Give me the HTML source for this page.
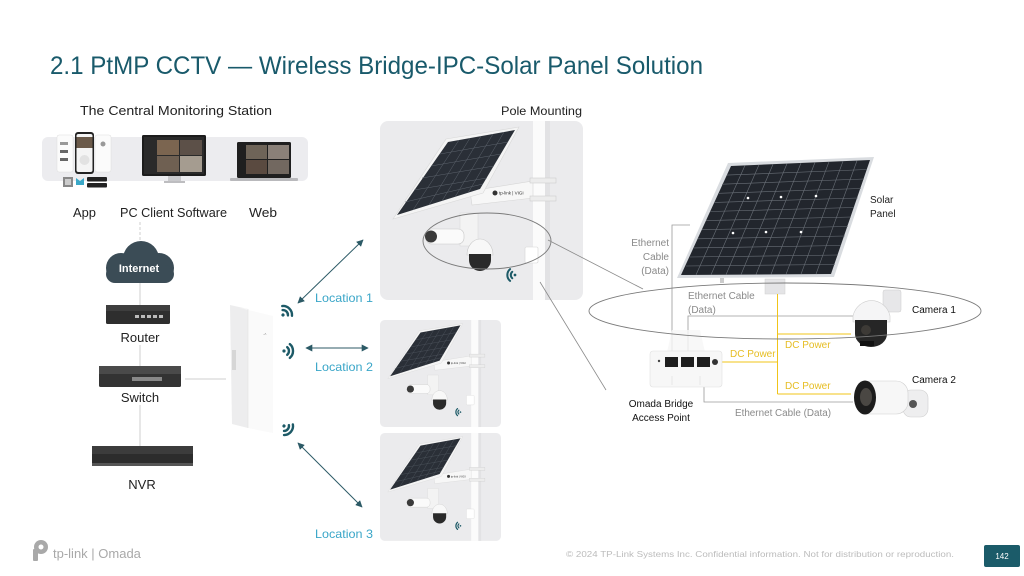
<!DOCTYPE html>
<html><head><meta charset="utf-8"><style>
html,body{margin:0;padding:0;background:#fff;}
svg{display:block;}
text{font-family:"Liberation Sans",Arial,sans-serif;}
</style></head><body>
<svg width="1024" height="576" viewBox="0 0 1024 576" xmlns="http://www.w3.org/2000/svg">
<defs>
 <marker id="ah" viewBox="0 0 10 10" refX="9" refY="5" markerWidth="7" markerHeight="7" orient="auto-start-reverse" markerUnits="userSpaceOnUse">
  <path d="M0,0 L10,5 L0,10 z" fill="#2c5a66"/>
 </marker>
 <g id="wifi" fill="none" stroke="#1d5a67" stroke-width="2.4" stroke-linecap="round">
  <circle cx="0" cy="0" r="1.6" fill="#1d5a67" stroke="none"/>
  <path d="M3.2,-3.8 A5,5 0 0 1 3.2,3.8"/>
  <path d="M5.8,-6.9 A9,9 0 0 1 5.8,6.9"/>
 </g>
 <g id="pole">
  <rect width="203" height="179" rx="8" fill="#ebebed"/>
  <rect x="153" y="0" width="17" height="179" fill="#fbfbfb"/>
  <rect x="165" y="0" width="5" height="179" fill="#e2e2e4"/>
  <polygon points="90,70 153,60 153,77 92,84" fill="#f7f7f7" stroke="#d6d6d6" stroke-width="0.6"/>
  <rect x="150" y="57" width="26" height="5" fill="#ececec" stroke="#c8c8c8" stroke-width="0.5"/>
  <rect x="150" y="75" width="26" height="5" fill="#ececec" stroke="#c8c8c8" stroke-width="0.5"/>
  <circle cx="115" cy="72" r="2.5" fill="#333"/>
  <text x="119" y="73.5" font-size="4.5" fill="#333">tp-link | VIGI</text>
  <polygon points="66,18 139,6 103,72 13,98" fill="#f4f4f4" stroke="#d8d8d8" stroke-width="0.6"/>
  <polygon points="68,21 135,9 100,68 17,94" fill="#2a2f37"/>
  <g stroke="#5d646d" stroke-width="0.5">
   <line x1="79" y1="19" x2="33" y2="89"/><line x1="90" y1="17" x2="49" y2="84"/>
   <line x1="101" y1="15" x2="62" y2="80"/><line x1="113" y1="13" x2="75" y2="76"/>
   <line x1="124" y1="11" x2="88" y2="72"/>
   <line x1="60" y1="33" x2="128" y2="21"/><line x1="51" y1="45" x2="121" y2="33"/>
   <line x1="42" y1="57" x2="114" y2="45"/><line x1="34" y1="69" x2="107" y2="57"/>
   <line x1="25" y1="81" x2="103" y2="63"/>
  </g>
  <rect x="80" y="92" width="18" height="33" fill="#f3f3f3" stroke="#d8d8d8" stroke-width="0.5"/>
  <rect x="46" y="108" width="38" height="15" rx="6" fill="#fafafa" stroke="#c8c8c8" stroke-width="0.6"/>
  <circle cx="51" cy="115.5" r="6" fill="#3a3a3a"/>
  <path d="M87,134 a13,16 0 0 1 26,0 z" fill="#f8f8f8" stroke="#c8c8c8" stroke-width="0.6"/>
  <path d="M89,133 h22 v6 a11,11 0 0 1 -22,0 z" fill="#2a2a2a"/>
  <rect x="145" y="126" width="13" height="16" rx="1.5" fill="#fff" stroke="#d6d6d6" stroke-width="0.6"/>
  <use href="#wifi" transform="translate(135,154) rotate(180) scale(0.85)"/>
 </g>
</defs>

<!-- Title -->
<text x="50" y="74" font-size="25" fill="#195a6b" textLength="653" lengthAdjust="spacingAndGlyphs">2.1 PtMP CCTV — Wireless Bridge-IPC-Solar Panel Solution</text>

<text x="80" y="115" font-size="13" fill="#222" textLength="192" lengthAdjust="spacingAndGlyphs">The Central Monitoring Station</text>
<text x="501" y="115" font-size="12" fill="#222" textLength="81" lengthAdjust="spacingAndGlyphs">Pole Mounting</text>

<!-- Monitoring station -->
<rect x="42" y="137" width="266" height="44" rx="6" fill="#ececef"/>
<rect x="57" y="135" width="16" height="37" rx="2" fill="#fbfbfb" stroke="#ddd" stroke-width="0.5"/>
<rect x="60" y="142" width="8" height="3" fill="#999"/><rect x="60" y="150" width="8" height="3" fill="#666"/><rect x="60" y="158" width="8" height="3" fill="#666"/>
<rect x="95" y="135" width="16" height="37" rx="2" fill="#fbfbfb" stroke="#ddd" stroke-width="0.5"/>
<circle cx="103" cy="144" r="2.5" fill="#999"/>
<rect x="75" y="132" width="19" height="42" rx="3" fill="#222"/>
<rect x="76.5" y="134" width="16" height="38" rx="2" fill="#f4f4f4"/>
<rect x="76.5" y="137" width="16" height="11" fill="#6b5a4a"/>
<circle cx="84.5" cy="160" r="5" fill="#e2e2e2"/>
<rect x="63" y="177" width="10" height="10" fill="#888"/>
<rect x="65" y="179" width="6" height="6" fill="#ccc"/>
<path d="M76,178 l4,3 l4,-3 v7 h-8 z" fill="#3aa8c8"/>
<rect x="87" y="177" width="20" height="4.5" rx="1" fill="#222"/>
<rect x="87" y="183" width="20" height="4.5" rx="1" fill="#222"/>
<rect x="142" y="135" width="64" height="41" rx="1.5" fill="#1c1c1c"/>
<rect x="144" y="137" width="60" height="37" fill="#2a2a2a"/>
<rect x="157" y="140" width="22" height="15" fill="#7b6550"/>
<rect x="180" y="140" width="22" height="15" fill="#5c5048"/>
<rect x="157" y="156" width="22" height="16" fill="#6f6052"/>
<rect x="180" y="156" width="22" height="16" fill="#a59c90"/>
<rect x="168" y="176" width="13" height="5" fill="#c9c9cc"/>
<rect x="164" y="181" width="21" height="2" fill="#bdbdc0"/>
<rect x="237" y="142" width="54" height="36" rx="1.5" fill="#1f1f1f"/>
<rect x="246" y="145" width="21" height="14" fill="#6e6458"/>
<rect x="268" y="145" width="21" height="14" fill="#8a8078"/>
<rect x="246" y="160" width="21" height="14" fill="#5a4a40"/>
<rect x="268" y="160" width="21" height="14" fill="#726860"/>
<rect x="230" y="178" width="68" height="3" rx="1" fill="#b9b9bc"/>

<text x="73" y="217" font-size="13" fill="#222" textLength="23" lengthAdjust="spacingAndGlyphs">App</text>
<text x="120" y="217" font-size="13" fill="#222" textLength="107" lengthAdjust="spacingAndGlyphs">PC Client Software</text>
<text x="249" y="217" font-size="13" fill="#222" textLength="28" lengthAdjust="spacingAndGlyphs">Web</text>

<!-- connectors left -->
<g stroke="#cfcfcf" stroke-width="1">
 <line x1="140" y1="222" x2="140" y2="246" stroke-dasharray="3,2"/>
 <line x1="140" y1="283" x2="140" y2="305"/>
 <line x1="140" y1="345" x2="140" y2="366"/>
 <line x1="140" y1="405" x2="140" y2="446"/>
 <line x1="185" y1="379" x2="226" y2="379"/>
</g>

<!-- Cloud -->
<g fill="#3b4c56">
 <circle cx="121" cy="268" r="15"/>
 <circle cx="141" cy="259" r="18"/>
 <circle cx="159" cy="268" r="15"/>
 <rect x="106" y="265" width="68" height="18" rx="9"/>
</g>
<text x="139" y="272" font-size="11" font-weight="bold" fill="#fff" text-anchor="middle">Internet</text>

<!-- Router -->
<rect x="106" y="305" width="64" height="19" rx="1.5" fill="#2e2e2e"/>
<rect x="106" y="305" width="64" height="6" fill="#3e3e3e"/>
<g fill="#bbb"><rect x="135" y="315" width="4" height="3"/><rect x="141" y="315" width="4" height="3"/><rect x="147" y="315" width="4" height="3"/><rect x="153" y="315" width="4" height="3"/><rect x="159" y="315" width="4" height="3"/></g>
<text x="140" y="342" font-size="13" fill="#222" text-anchor="middle">Router</text>

<!-- Switch -->
<rect x="99" y="366" width="82" height="21" rx="1.5" fill="#333"/>
<rect x="99" y="366" width="82" height="8" fill="#4a4a4a"/>
<g fill="#888"><rect x="132" y="377" width="30" height="4"/></g>
<text x="140" y="402" font-size="13" fill="#222" text-anchor="middle">Switch</text>

<!-- NVR -->
<rect x="92" y="446" width="101" height="20" rx="1.5" fill="#2c2c2c"/>
<rect x="92" y="446" width="101" height="8" fill="#3c3c3c"/>
<rect x="92" y="463" width="101" height="3" fill="#555"/>
<text x="142" y="489" font-size="13" fill="#222" text-anchor="middle">NVR</text>

<!-- CPE device -->
<polygon points="230,305 248,309 248,428 232,424" fill="#ededee"/>
<polygon points="240,308 273,316 273,433 248,428 248,309" fill="#fafafa"/>
<line x1="248" y1="309" x2="248" y2="428" stroke="#e2e2e2" stroke-width="0.6"/>
<rect x="232" y="350" width="4" height="20" fill="#d6d6d6"/>
<text x="263" y="335" font-size="4" fill="#999">-ʌ</text>

<!-- wifi icons on CPE -->
<use href="#wifi" transform="translate(283,315) rotate(-45)"/>
<use href="#wifi" transform="translate(284,351)"/>
<use href="#wifi" transform="translate(284,426) rotate(40)"/>

<!-- arrows -->
<g stroke="#2c5a66" stroke-width="1" fill="none">
 <line x1="298" y1="303" x2="363" y2="240" marker-start="url(#ah)" marker-end="url(#ah)"/>
 <line x1="306" y1="348" x2="368" y2="348" marker-start="url(#ah)" marker-end="url(#ah)"/>
 <line x1="298" y1="443" x2="362" y2="507" marker-start="url(#ah)" marker-end="url(#ah)"/>
</g>
<text x="315" y="302" font-size="12" fill="#3aa6c8" textLength="58" lengthAdjust="spacingAndGlyphs">Location 1</text>
<text x="315" y="371" font-size="12" fill="#3aa6c8" textLength="58" lengthAdjust="spacingAndGlyphs">Location 2</text>
<text x="315" y="538" font-size="12" fill="#3aa6c8" textLength="58" lengthAdjust="spacingAndGlyphs">Location 3</text>

<!-- pole images -->
<use href="#pole" transform="translate(380,121)"/>
<use href="#pole" transform="translate(380,320) scale(0.596,0.598)"/>
<use href="#pole" transform="translate(380,433) scale(0.596,0.603)"/>

<!-- big ellipse and pointer lines -->
<ellipse cx="487" cy="241" rx="64" ry="28" fill="none" stroke="#7a7a7a" stroke-width="0.9"/>
<line x1="548" y1="240" x2="643" y2="289" stroke="#8a8a8a" stroke-width="0.8"/>
<line x1="540" y1="282" x2="606" y2="390" stroke="#8a8a8a" stroke-width="0.8"/>

<!-- Solar panel -->
<polygon points="728,163 874,157 834,277 677,278" fill="#d9dce0"/>
<polygon points="731,166 870,160 831,274 681,275" fill="#22262d"/>
<g stroke="#6b7179" stroke-width="0.6">
 <line x1="745" y1="165.4" x2="696" y2="274.9"/><line x1="759" y1="164.8" x2="711" y2="274.8"/>
 <line x1="773" y1="164.2" x2="726" y2="274.7"/><line x1="787" y1="163.6" x2="741" y2="274.6"/>
 <line x1="801" y1="163" x2="756" y2="274.5"/><line x1="815" y1="162.4" x2="771" y2="274.4"/>
 <line x1="829" y1="161.8" x2="786" y2="274.3"/><line x1="843" y1="161.2" x2="801" y2="274.2"/>
 <line x1="857" y1="160.6" x2="816" y2="274.1"/>
 <line x1="727" y1="175.1" x2="867" y2="169.5"/><line x1="722" y1="184.2" x2="864" y2="179"/>
 <line x1="718" y1="193.3" x2="861" y2="188.5"/><line x1="714" y1="202.4" x2="858" y2="198"/>
 <line x1="710" y1="211.5" x2="854" y2="207.5"/><line x1="706" y1="220.6" x2="851" y2="217"/>
 <line x1="702" y1="229.7" x2="848" y2="226.5"/><line x1="698" y1="238.8" x2="845" y2="236"/>
 <line x1="694" y1="247.9" x2="841" y2="245.5"/><line x1="690" y1="257" x2="838" y2="255"/>
 <line x1="686" y1="266" x2="835" y2="264.5"/>
</g>
<g fill="#fff"><circle cx="748" cy="198" r="1.3"/><circle cx="781" cy="197" r="1.3"/><circle cx="816" cy="196" r="1.3"/><circle cx="733" cy="233" r="1.3"/><circle cx="766" cy="232" r="1.3"/><circle cx="801" cy="232" r="1.3"/></g>
<rect x="765" y="279" width="20" height="15" fill="#e4e4e6" stroke="#d0d0d0" stroke-width="0.5"/>
<rect x="720" y="278" width="4" height="5" fill="#ccc"/>
<text x="870" y="203" font-size="10" fill="#222">Solar</text>
<text x="870" y="217" font-size="10" fill="#222">Panel</text>

<!-- Ethernet gray lines -->
<g stroke="#9a9a9a" stroke-width="0.8" fill="none">
 <polyline points="690,225 672,225 672,360"/>
 <polyline points="853,316 688,316 688,360"/>
 <polyline points="704,368 704,402 853,402"/>
</g>
<g font-size="10" fill="#8a8a8a">
 <text x="669" y="246" text-anchor="end">Ethernet</text>
 <text x="669" y="260" text-anchor="end">Cable</text>
 <text x="669" y="274" text-anchor="end">(Data)</text>
 <text x="688" y="299">Ethernet Cable</text>
 <text x="688" y="313">(Data)</text>
 <text x="735" y="416" textLength="96" lengthAdjust="spacingAndGlyphs">Ethernet Cable (Data)</text>
</g>

<!-- DC power yellow lines -->
<g stroke="#f0c419" stroke-width="1" fill="none">
 <line x1="777.5" y1="294" x2="777.5" y2="394"/>
 <line x1="777.5" y1="334" x2="851" y2="334"/>
 <line x1="722" y1="362" x2="777.5" y2="362"/>
 <line x1="777.5" y1="394" x2="851" y2="394"/>
</g>
<g font-size="10" fill="#e6bd22">
 <text x="785" y="348">DC Power</text>
 <text x="730" y="357">DC Power</text>
 <text x="785" y="389">DC Power</text>
</g>

<!-- Omada Bridge AP -->
<polygon points="667,352 672,330 700,330 705,352" fill="#f6f6f6" opacity="0.8"/>
<rect x="650" y="351" width="72" height="36" rx="3" fill="#f7f7f7" stroke="#e0e0e0" stroke-width="0.6"/>
<rect x="665" y="357" width="13" height="10" fill="#1e1e1e"/>
<rect x="681" y="357" width="13" height="10" fill="#1e1e1e"/>
<rect x="697" y="357" width="13" height="10" fill="#1e1e1e"/>
<circle cx="715" cy="362" r="3" fill="#333"/>
<circle cx="659" cy="361" r="1.2" fill="#444"/>
<line x1="672" y1="376" x2="672" y2="385" stroke="#e3e3e3" stroke-width="0.8"/>
<line x1="700" y1="376" x2="700" y2="385" stroke="#e3e3e3" stroke-width="0.8"/>
<text x="661" y="407" font-size="10" fill="#111" text-anchor="middle">Omada Bridge</text>
<text x="661" y="421" font-size="10" fill="#111" text-anchor="middle">Access Point</text>

<!-- Camera 1 -->
<rect x="883" y="290" width="18" height="22" rx="2" fill="#e7e7e9" stroke="#ccc" stroke-width="0.5"/>
<path d="M853,322 v-6 a19,20 0 0 1 37,0 v6 z" fill="#f5f5f6" stroke="#cfcfcf" stroke-width="0.6"/>
<path d="M855,320 h32 v14 a16,13 0 0 1 -32,0 z" fill="#262626"/>
<circle cx="866" cy="330" r="5" fill="#3d3a36"/>
<rect x="860" y="341" width="14" height="5" fill="#111"/>

<!-- Camera 2 -->
<rect x="903" y="390" width="25" height="27" rx="8" fill="#eeeeef" stroke="#cfcfcf" stroke-width="0.6"/>
<circle cx="913" cy="404" r="4" fill="#555"/>
<rect x="858" y="381" width="50" height="33" rx="12" fill="#f7f7f7" stroke="#d0d0d0" stroke-width="0.6"/>
<ellipse cx="865" cy="397.5" rx="11" ry="17" fill="#1c1c1c"/>
<ellipse cx="866" cy="397" rx="6" ry="9" fill="#4a4743"/>

<text x="912" y="313" font-size="10" fill="#111">Camera 1</text>
<text x="912" y="383" font-size="10" fill="#111">Camera 2</text>

<!-- right ellipse -->
<ellipse cx="785" cy="311" rx="196" ry="28" fill="none" stroke="#7a7a7a" stroke-width="0.9"/>

<!-- Footer -->
<g fill="#a9a9a9">
 <circle cx="41" cy="547" r="7"/>
 <rect x="33" y="549" width="5" height="12" rx="1"/>
 <circle cx="41" cy="547" r="2.5" fill="#fff"/>
</g>
<text x="53" y="558" font-size="13" fill="#a9a9a9">tp-link | Omada</text>
<text x="566" y="557" font-size="8.5" fill="#bcbcbc" textLength="388" lengthAdjust="spacingAndGlyphs">© 2024 TP-Link Systems Inc. Confidential information. Not for distribution or reproduction.</text>
<rect x="984" y="545" width="36" height="22" rx="2" fill="#1b5b69"/>
<text x="1002" y="559" font-size="8" fill="#fff" text-anchor="middle">142</text>
</svg>
</body></html>
